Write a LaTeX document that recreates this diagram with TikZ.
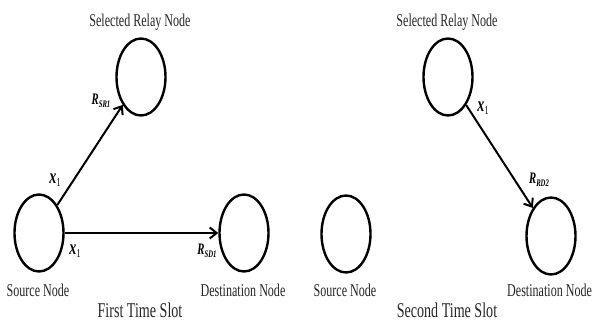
\documentclass[tikz,border=0pt]{standalone}
\usepackage{fontspec}
\setmainfont{Liberation Serif}
\newfontfamily\cf[FakeStretch=0.67]{Liberation Serif}
\usetikzlibrary{shapes.geometric,arrows.meta}
\tikzset{
  nd/.style={draw,ellipse,line width=2.4pt,minimum width=49pt,minimum height=77pt,inner sep=0pt},
  txt/.style={font=\cf\fontsize{18}{20}\selectfont,text=black!85,inner sep=0pt},
  big/.style={font=\cf\fontsize{21}{24}\selectfont,text=black!85,inner sep=0pt},
  xlbl/.style={font=\cf\fontsize{21}{24}\selectfont\bfseries\itshape,inner sep=0pt},
  rlbl/.style={font=\cf\fontsize{16}{18}\selectfont\bfseries\itshape,inner sep=0pt},
  arr/.style={line width=2pt,-{Straight Barb[length=7pt,width=11pt,line width=2pt]}}
}
\newcommand{\xsub}{x\raisebox{-0.35ex}{\fontsize{12}{12}\selectfont\upshape\mdseries 1}}
\newcommand{\rsub}[1]{R\raisebox{-0.4ex}{\fontsize{10}{10}\selectfont #1}}
\begin{document}
\begin{tikzpicture}[x=1pt,y=-1pt]
\useasboundingbox (0,0) rectangle (593,323);
% first time slot
\node[nd] (rel1) at (141,77) {};
\node[nd] (src1) at (39,233) {};
\node[nd] (dst1) at (244,233) {};
\node[txt] (trel1) at (140,22) {Selected Relay Node};
\node[txt] (tsrc1) at (38,290) {Source\,Node};
\node[txt] (tdst1) at (243,290) {Destination Node};
\node[big] (slot1) at (140,310) {First Time Slot};
\draw[arr] (src1) -- (rel1);
\draw[arr] (src1) -- (dst1);
\node[xlbl] (x1a) at (55,180) {\xsub};
\node[xlbl] (x1b) at (75,251) {\xsub};
\node[rlbl] (rsr) at (101,101) {\rsub{SR1}};
\node[rlbl] (rsd) at (207,251) {\rsub{SD1}};
% second time slot
\node[nd] (rel2) at (448,77) {};
\node[nd] (src2) at (346,234) {};
\node[nd] (dst2) at (551,236) {};
\node[txt] (trel2) at (447,22) {Selected Relay Node};
\node[txt] (tsrc2) at (345,290) {Source\,Node};
\node[txt,anchor=west] (tdst2) at (507,290) {Destination Node};
\node[big] (slot2) at (447,310) {Second Time Slot};
\draw[arr] (rel2) -- (dst2);
\node[xlbl] (x1c) at (483,108) {\xsub};
\node[rlbl] (rrd) at (539,180) {\rsub{RD2}};
\end{tikzpicture}
\end{document}
